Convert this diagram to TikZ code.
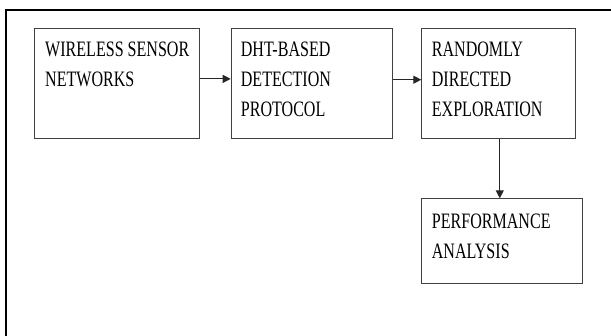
\documentclass[tikz,border=0pt]{standalone}
\usepackage{fontspec}
\setmainfont[FakeStretch=0.73]{Liberation Serif}
\usetikzlibrary{arrows.meta}
\begin{document}
\begin{tikzpicture}[x=1pt,y=-1pt,
  blk/.style={draw=black!75,line width=1pt,inner sep=0pt,anchor=north west},
  lbl/.style={inner sep=0pt,anchor=base west,align=left,font=\fontsize{22}{30.3}\selectfont},
  conn/.style={draw=black!85,line width=1.2pt,-{Triangle[length=8pt,width=8pt]}}]
\clip (0,0) rectangle (611,336);
\fill[white] (0,0) rectangle (611,336);
\draw[line width=2.2pt] (5.8,345) -- (5.8,10) -- (620,10);
\node[blk,minimum width=165pt,minimum height=110pt] (b1) at (34.3,27.7) {};
\node[blk,minimum width=161.3pt,minimum height=110pt] (b2) at (230.7,27.7) {};
\node[blk,minimum width=154pt,minimum height=110pt] (b3) at (421.3,27.7) {};
\node[blk,minimum width=160.4pt,minimum height=84.4pt] (b4) at (421.3,198.3) {};
\node[lbl] (t1) at (45,86.8) {WIRELESS SENSOR\\NETWORKS};
\node[lbl] (t2) at (240.7,117) {DHT-BASED\\DETECTION\\PROTOCOL};
\node[lbl] (t3) at (431.7,117) {RANDOMLY\\DIRECTED\\EXPLORATION};
\node[lbl] (t4) at (431.7,259) {PERFORMANCE\\ANALYSIS};
\draw[conn] ([yshift=4.3pt]b1.east) -- ([yshift=4.3pt]b2.west);
\draw[conn] ([yshift=3.5pt]b2.east) -- ([yshift=3.5pt]b3.west);
\draw[conn] ([xshift=1pt]b3.south) -- ([xshift=1pt]b3.south |- b4.north);
\end{tikzpicture}
\end{document}
